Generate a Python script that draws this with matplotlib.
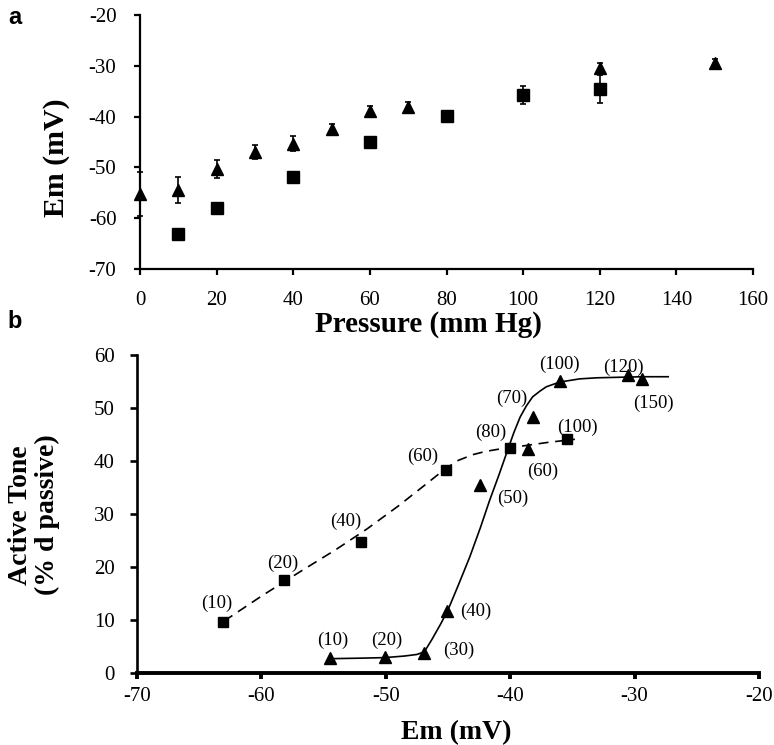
import matplotlib
matplotlib.use("Agg")
import matplotlib.pyplot as plt

plt.rcParams["font.family"] = ["Liberation Serif", "DejaVu Serif"]
plt.rcParams["axes.unicode_minus"] = False

# panel a: membrane potential vs pressure
tri_p = [0, 10, 20, 30, 40, 50, 60, 70, 120, 150]
tri_em = [-55.2, -54.4, -50.3, -46.9, -45.3, -42.5, -38.9, -38.1, -30.5, -29.4]
tri_err = [4.3, 2.6, 1.8, 1.4, 1.4, 1.0, 1.0, 1.0, 1.0, 0.8]

sq_p = [10, 20, 40, 60, 80, 100, 120]
sq_em = [-63.1, -58.0, -51.9, -45.0, -39.9, -35.8, -34.6]
sq_err = [0, 0, 0, 0, 0, 1.8, 2.7]

# panel b: active tone vs Em
b_sq_em = [-63.1, -58.2, -52.0, -45.2, -40.0, -35.4]
b_sq_tone = [9.6, 17.5, 24.7, 38.3, 42.4, 44.1]
b_sq_lab = ["(10)", "(20)", "(40)", "(60)", "(80)", "(100)"]

b_tri_em = [-54.5, -50.1, -46.9, -45.1, -42.4, -38.6, -38.2, -36.0, -30.5, -29.4]
b_tri_tone = [2.8, 3.0, 3.8, 11.7, 35.5, 42.3, 48.3, 55.1, 56.2, 55.5]
b_tri_lab = ["(10)", "(20)", "(30)", "(40)", "(50)", "(60)", "(70)", "(100)", "(120)", "(150)"]

# fitted curves
fit_sq_x = [-63.0, -60.0, -56.9, -54.0, -51.5, -49.0, -47.0, -45.5, -44.3, -43.0,
            -42.0, -41.0, -40.0, -38.5, -37.0, -34.8]
fit_sq_y = [9.8, 14.5, 19.1, 23.3, 27.2, 31.5, 35.2, 38.0, 40.0, 41.2,
            41.8, 42.2, 42.5, 43.0, 43.5, 44.1]

fit_tri_x = [-54.5, -52.0, -50.1, -48.5, -47.5, -46.9, -46.3, -45.6, -45.0, -44.2,
             -43.25, -42.4, -41.65, -40.9, -40.2, -39.7, -39.2, -38.7, -38.2, -37.6,
             -37.1, -36.5, -36.0, -35.2, -34.4, -33.0, -31.2, -29.3, -27.3]
fit_tri_y = [2.7, 2.8, 2.9, 3.2, 3.5, 4.0, 6.3, 9.2, 11.9, 16.4,
             21.9, 27.4, 32.6, 37.4, 42.1, 45.4, 48.3, 50.4, 52.1, 53.2,
             54.0, 54.5, 54.9, 55.2, 55.5, 55.7, 55.8, 55.9, 55.9]

# label offsets in pixels
sq_off = [(-6, 19), (-1, 17), (-15, 21), (-23, 14), (-19, 16), (10, 12)]
tri_off = [(3, 18), (2, 17), (34, 3), (29, 0), (32, -13), (15, -23),
           (-21, 19), (-1, 17), (-5, 8), (11, -24)]

W, H = 774, 745
fig = plt.figure(figsize=(W / 100, H / 100), dpi=100)


def px(x0, y0, x1, y1):
    return [x0 / W, 1 - y1 / H, (x1 - x0) / W, (y1 - y0) / H]


def style_axes(ax, lw_left, lw_bottom, ypad, xpad, ylen, xlen):
    for s in ["top", "right"]:
        ax.spines[s].set_visible(False)
    ax.spines["left"].set_linewidth(lw_left)
    ax.spines["bottom"].set_linewidth(lw_bottom)
    ax.tick_params(axis="y", direction="out", length=ylen, width=lw_left,
                   pad=ypad, labelsize=15)
    ax.tick_params(axis="x", direction="out", length=xlen, width=lw_bottom,
                   pad=xpad, labelsize=15)


# ---- panel a
ax1 = fig.add_axes(px(140, 15, 753, 269))
ax1.errorbar(tri_p, tri_em, yerr=tri_err, fmt="^", color="black", ms=9,
             elinewidth=1.2, capsize=2.5, capthick=1.2, clip_on=False, zorder=3)
ax1.errorbar(sq_p, sq_em, yerr=sq_err, fmt="s", color="black", ms=8,
             elinewidth=1.2, capsize=2.5, capthick=1.2, clip_on=False, zorder=3)
ax1.set_xlim(0, 160)
ax1.set_ylim(-70, -20)
ax1.set_xticks(range(0, 161, 20))
ax1.set_yticks(range(-70, -19, 10))
style_axes(ax1, 1.6, 1.6, 13, 12, 4, 4)

# ---- panel b
ax2 = fig.add_axes(px(137, 355, 759, 673))
ax2.plot(fit_sq_x, fit_sq_y, color="black", lw=1.2, ls=(0, (6, 4)))
ax2.plot(fit_tri_x, fit_tri_y, color="black", lw=1.2)
ax2.plot(b_sq_em, b_sq_tone, "s", color="black", ms=6.5, ls="none", zorder=3)
ax2.plot(b_tri_em, b_tri_tone, "^", color="black", ms=8.5, ls="none", zorder=3)
for x, y, t, o in zip(b_sq_em, b_sq_tone, b_sq_lab, sq_off):
    ax2.annotate(t, (x, y), xytext=o, textcoords="offset pixels",
                 ha="center", va="center", fontsize=13.5)
for x, y, t, o in zip(b_tri_em, b_tri_tone, b_tri_lab, tri_off):
    ax2.annotate(t, (x, y), xytext=o, textcoords="offset pixels",
                 ha="center", va="center", fontsize=13.5)
ax2.set_xlim(-70, -20)
ax2.set_ylim(0, 60)
ax2.set_xticks(range(-70, -19, 10))
ax2.set_yticks(range(0, 61, 10))
style_axes(ax2, 1.9, 2.8, 11, 6, 5, 4)

# ---- labels
fig.text(57 / W, 1 - 158 / H, "Em (mV)", rotation=90, ha="center", va="center",
         fontsize=21.5, fontweight="bold")
fig.text(428 / W, 1 - 325 / H, "Pressure (mm Hg)", ha="center", va="center",
         fontsize=21, fontweight="bold")
fig.text(34 / W, 1 - 515 / H, "Active Tone\n(% d passive)", rotation=90,
         ha="center", va="center", fontsize=20, fontweight="bold", linespacing=1.1)
fig.text(456 / W, 1 - 733 / H, "Em (mV)", ha="center", va="center",
         fontsize=20, fontweight="bold")
fig.text(15 / W, 1 - 18 / H, "a", ha="center", va="center", fontsize=17,
         fontweight="bold", family="Liberation Sans")
fig.text(15 / W, 1 - 321 / H, "b", ha="center", va="center", fontsize=17,
         fontweight="bold", family="Liberation Sans")

fig.savefig("out.png", dpi=100)
